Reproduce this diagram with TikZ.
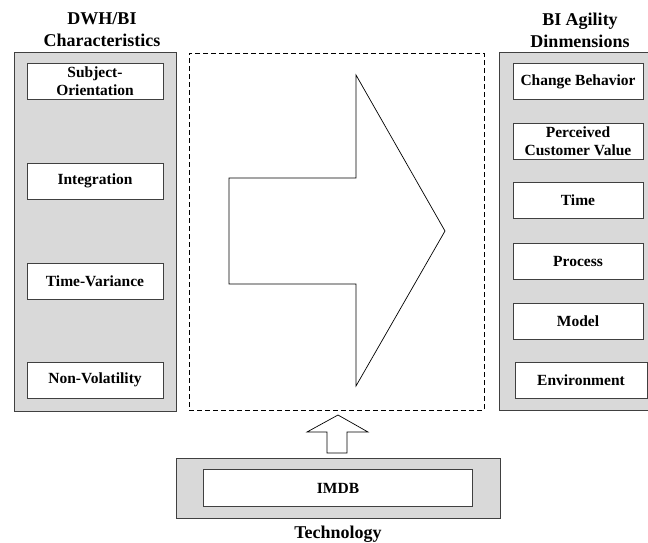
\documentclass[tikz,border=0pt]{standalone}
\usepackage{fontspec}
\setmainfont{Liberation Serif}
\usetikzlibrary{positioning}
\definecolor{PanelGray}{RGB}{217,217,217}
\definecolor{EdgeGray}{RGB}{64,64,64}
\tikzset{
	panel/.style={draw=EdgeGray, fill=PanelGray, line width=0.8pt, inner sep=0pt},
	item/.style={draw=EdgeGray, fill=white, line width=0.8pt, align=center, inner sep=0pt,
		minimum height=36pt, font=\fontsize{15.5}{18}\selectfont\bfseries},
	heading/.style={align=center, font=\fontsize{18}{22}\selectfont\bfseries},
	frame/.style={draw=black, dash pattern=on 5pt off 3pt, line width=0.7pt},
	blockarrow/.style={draw=black, fill=white, line width=0.7pt, line join=miter}
}

\begin{document}
\begin{tikzpicture}[x=1pt, y=-1pt]
	\path[use as bounding box, clip] (0,0) rectangle (648,542);
	% left column
	\node[panel, minimum width=162pt, minimum height=359pt] (dwh) at (95,231.5) {};
	\node[heading] (dwhtitle) at (102,30) {DWH/BI\\Characteristics};
	\node[item, minimum width=136pt] (subj) at (95,81) {Subject-\\Orientation};
	\node[item, minimum width=136pt] (integ) at (95,181) {Integration};
	\node[item, minimum width=136pt] (timevar) at (95,281) {Time-Variance};
	\node[item, minimum width=136pt] (nonvol) at (95,380) {Non-Volatility};
	% right column
	\node[panel, minimum width=160pt, minimum height=358pt] (agil) at (579,231) {};
	\node[heading] (agiltitle) at (580,30) {BI Agility\\Dinmensions};
	\node[item, minimum width=130pt] (change) at (578,81.5) {Change Behavior};
	\node[item, minimum width=130pt] (value) at (578,141) {Perceived\\Customer Value};
	\node[item, minimum width=130pt] (time) at (578,200.5) {Time};
	\node[item, minimum width=130pt] (process) at (578,261) {Process};
	\node[item, minimum width=130pt] (model) at (578,321) {Model};
	\node[item, minimum width=132pt] (environ) at (581,380.5) {Environment};
	% middle
	\node[frame, minimum width=295pt, minimum height=357pt, inner sep=0pt] (mid) at (336.5,231.5) {};
	\draw[blockarrow] (229,178) -- (356,178) -- (356,75) -- (445,231) -- (356,386) -- (356,284) -- (229,284) -- cycle;
	% bottom
	\node[panel, minimum width=324pt, minimum height=60pt] (tech) at (338,488) {};
	\node[item, minimum width=269pt, minimum height=37pt] (imdb) at (tech.center) {IMDB};
	\node[heading, below=4pt of tech] (techtitle) {Technology};
	\draw[blockarrow] (327,453) -- (327,432) -- (307,432) -- (338,415) -- (368,432) -- (347,432) -- (347,453) -- cycle;
\end{tikzpicture}
\end{document}
